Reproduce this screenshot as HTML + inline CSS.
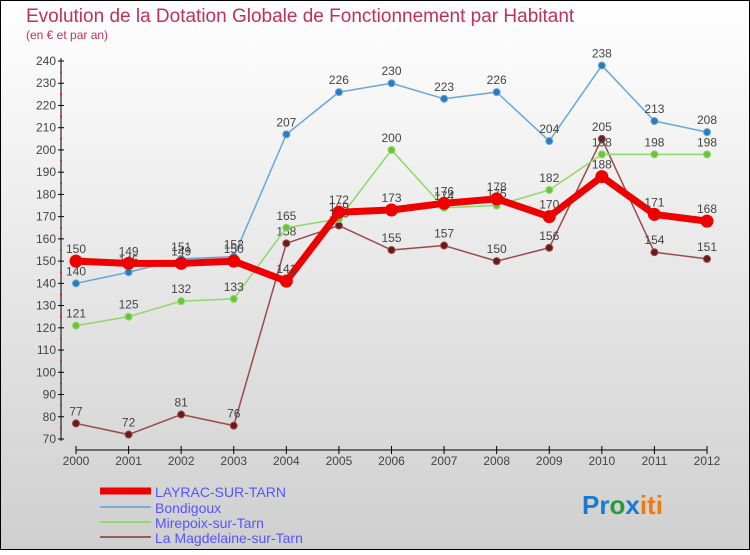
<!DOCTYPE html>
<html><head><meta charset="utf-8"><style>
body{margin:0;width:750px;height:550px;overflow:hidden;font-family:"Liberation Sans",sans-serif}
</style></head><body>
<svg width="750" height="550" xmlns="http://www.w3.org/2000/svg" id="svg">
<defs><linearGradient id="bg" x1="0" y1="0" x2="0" y2="1"><stop offset="0" stop-color="#ffffff"/><stop offset="1" stop-color="#cfcfcf"/></linearGradient></defs>
<rect x="0.5" y="0.5" width="749" height="549" fill="url(#bg)" stroke="#000"/>
<text x="26" y="22" font-size="19" fill="#c0305a">Evolution de la Dotation Globale de Fonctionnement par Habitant</text>
<text x="26" y="39" font-size="12" fill="#c0305a">(en € et par an)</text>
<g id="axes"></g><g id="series"></g>
<g font-size="14" fill="#5555ff">
<line x1="100" y1="491" x2="151" y2="491" stroke="#e00" stroke-width="7"/>
<text x="155" y="497" fill="#5555ff">LAYRAC-SUR-TARN</text>
<line x1="100" y1="507" x2="151" y2="507" stroke="#7aaed6" stroke-width="2"/>
<text x="155" y="513" fill="#5555ff">Bondigoux</text>
<line x1="100" y1="522" x2="151" y2="522" stroke="#8fd86a" stroke-width="2"/>
<text x="155" y="528" fill="#5555ff">Mirepoix-sur-Tarn</text>
<line x1="100" y1="537" x2="151" y2="537" stroke="#9a5a5a" stroke-width="2"/>
<text x="155" y="543" fill="#5555ff">La Magdelaine-sur-Tarn</text>
</g>
<text x="582" y="514" font-size="26" font-weight="bold"><tspan fill="#1a7bd0">Pr</tspan><tspan fill="#2a9a3a">o</tspan><tspan fill="#1a7bd0">x</tspan><tspan fill="#f07a10">iti</tspan></text>
</svg>
<script>
const years=["2000","2001","2002","2003","2004","2005","2006","2007","2008","2009","2010","2011","2012"];
const yTicks=[70,80,90,100,110,120,130,140,150,160,170,180,190,200,210,220,230,240];
const layrac=[150,149,149,150,141,172,173,176,178,170,188,171,168];
const bondigoux=[140,145,151,152,207,226,230,223,226,204,238,213,208];
const mirepoix=[121,125,132,133,165,169,200,174,175,182,198,198,198];
const magdelaine=[77,72,81,76,158,166,155,157,150,156,205,154,151];
const NS="http://www.w3.org/2000/svg";
const X=i=>76+i*(707-76)/12;
const Y=v=>61+(240-v)*(439-61)/170;
function mk(t,a,p){const e=document.createElementNS(NS,t);for(const k in a)e.setAttribute(k,a[k]);p.appendChild(e);return e;}
const ax=document.getElementById('axes');
const yl=mk('line',{x1:61,y1:58,x2:61,y2:441,stroke:'#000'},ax);


const xl=mk('line',{x1:76,y1:450,x2:707,y2:450,stroke:'#000'},ax);


yTicks.forEach(v=>{
 mk('line',{x1:58,y1:Y(v),x2:64,y2:Y(v),stroke:'#000'},ax);
 if(v<240) mk('line',{x1:60,y1:Y(v+5),x2:62,y2:Y(v+5),stroke:'#e00'},ax);
 const t=mk('text',{x:56,y:Y(v)+4,'text-anchor':'end','font-size':12,fill:'#444'},ax);t.textContent=v;
 
 
});
years.forEach((y,i)=>{
 mk('line',{x1:X(i),y1:446,x2:X(i),y2:454,stroke:'#000'},ax);
 const t=mk('text',{x:X(i),y:465,'text-anchor':'middle','font-size':12,fill:'#444'},ax);t.textContent=y;
 
 
});
const sg=document.getElementById('series');
function series(d,name,col,dot,w,r){
 const g=mk('g',{},sg);
 
 
 mk('polyline',{points:d.map((v,i)=>X(i)+','+Y(v)).join(' '),fill:'none',stroke:col,'stroke-width':w,'stroke-linejoin':'round'},g);
 d.forEach((v,i)=>{
  const c=mk('circle',{cx:X(i),cy:Y(v),r:r,fill:dot,stroke:col,'stroke-width':1},g);
  
  
  const t=mk('text',{x:X(i),y:Y(v)-8,'text-anchor':'middle','font-size':12,fill:'#444'},g);t.textContent=v;
 });
}
series(magdelaine,'series-la-magdelaine','#9a4a4a','#6a1a1a',1.5,3.5);
series(mirepoix,'series-mirepoix','#8fd86a','#6cc23a',1.5,3.5);
series(bondigoux,'series-bondigoux','#6aa6d6','#2a7ac0',1.5,3.5);
series(layrac,'series-layrac','#ee0000','#ee0000',7,6);
</script>
</body></html>
